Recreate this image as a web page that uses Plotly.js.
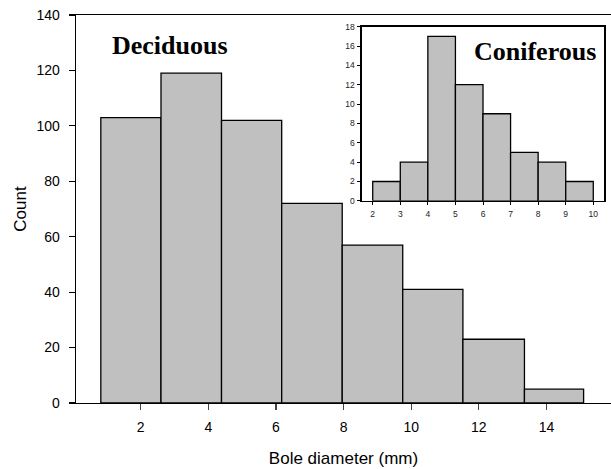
<!DOCTYPE html>
<html>
<head>
<meta charset="utf-8">
<script src="https://cdn.plot.ly/plotly-3.0.1.min.js"></script>
<style>html,body{margin:0;padding:0;background:#fff;}#chart{width:611px;height:469px;}</style>
</head>
<body>
<div id="chart"></div>
<script>
// Deciduous (main) histogram
const decidEdges = [0.82, 2.6, 4.39, 6.17, 7.96, 9.75, 11.53, 13.35, 15.1];
const decidCounts = [103, 119, 102, 72, 57, 41, 23, 5];
const mainXTicks = [2, 4, 6, 8, 10, 12, 14];
const mainYTicks = [0, 20, 40, 60, 80, 100, 120, 140];

// Coniferous (inset) histogram
const conifEdges = [2, 3, 4, 5, 6, 7, 8, 9, 10];
const conifCounts = [2, 4, 17, 12, 9, 5, 4, 2];
const insetXTicks = [2, 3, 4, 5, 6, 7, 8, 9, 10];
const insetYTicks = [0, 2, 4, 6, 8, 10, 12, 14, 16, 18];

function centers(e){ return e.slice(0,-1).map((v,i)=> (v+e[i+1])/2); }
function widths(e){ return e.slice(0,-1).map((v,i)=> e[i+1]-v); }

const barStyle = {color:'#c0c0c0', line:{color:'#000', width:1.3}};

const traces = [
  {type:'bar', x:centers(decidEdges), y:decidCounts, width:widths(decidEdges),
   marker:barStyle, xaxis:'x', yaxis:'y', hoverinfo:'x+y'},
  {type:'bar', x:centers(conifEdges), y:conifCounts, width:widths(conifEdges),
   marker:barStyle, xaxis:'x2', yaxis:'y2', hoverinfo:'x+y'}
];

const axFont = {family:'Liberation Sans, Arial, sans-serif', size:14, color:'#000'};
const smallFont = {family:'Liberation Sans, Arial, sans-serif', size:8.5, color:'#222'};

const layout = {
  width:611, height:469,
  margin:{l:76, r:0, t:15, b:66},
  paper_bgcolor:'#fff', plot_bgcolor:'rgba(0,0,0,0)',
  showlegend:false, bargap:0,
  font:axFont,
  xaxis:{domain:[0,1], range:[0.086, 15.91], tickvals:mainXTicks, ticktext:mainXTicks.map(String),
    showline:true, linecolor:'#000', linewidth:1.3, mirror:true, showgrid:false, zeroline:false,
    ticks:'outside', ticklen:6, tickcolor:'#444', tickwidth:1.2, tickfont:axFont, ticklabelstandoff:5,
    title:{text:'Bole diameter (mm)', font:{family:'Liberation Sans, Arial, sans-serif', size:17, color:'#000'}, standoff:18},
    automargin:false, fixedrange:true},
  yaxis:{domain:[0,1], range:[0,140], tickvals:mainYTicks, ticktext:mainYTicks.map(String),
    showline:true, linecolor:'#000', linewidth:1.3, showgrid:false, zeroline:false,
    ticks:'outside', ticklen:6, tickcolor:'#000', tickwidth:1.2, tickfont:axFont, ticklabelstandoff:6,
    title:{text:'Count', font:{family:'Liberation Sans, Arial, sans-serif', size:17, color:'#000'}, standoff:5},
    automargin:false, fixedrange:true},
  xaxis2:{domain:[0.534, 0.9875], anchor:'y2', range:[1.6, 10.4], tickvals:insetXTicks, ticktext:insetXTicks.map(String),
    showline:true, linecolor:'#000', linewidth:1.2, mirror:true, showgrid:false, zeroline:false,
    ticks:'outside', ticklen:3, tickcolor:'#000', tickfont:smallFont, ticklabelstandoff:2, fixedrange:true},
  yaxis2:{domain:[0.521, 0.970], anchor:'x2', range:[0,18], tickvals:insetYTicks, ticktext:insetYTicks.map(String),
    showline:true, linecolor:'#000', linewidth:1.2, mirror:true, showgrid:false, zeroline:false,
    ticks:'outside', ticklen:3, tickcolor:'#000', tickfont:smallFont, ticklabelstandoff:1, fixedrange:true},
  shapes:[
    {type:'rect', xref:'x2 domain', yref:'y2 domain', x0:0, x1:1, y0:0, y1:1,
     fillcolor:'#fff', line:{width:0}, layer:'below'}
  ],
  annotations:[
    {text:'<b>Deciduous</b>', xref:'paper', yref:'paper', x:(170-76)/535, y:(403.3-46)/388.3,
     showarrow:false, xanchor:'center', yanchor:'middle',
     font:{family:'Liberation Serif, Times New Roman, serif', size:26, color:'#000'}},
    {text:'<b>Coniferous</b>', xref:'paper', yref:'paper', x:(535-76)/535, y:(403.3-51.5)/388.3,
     showarrow:false, xanchor:'center', yanchor:'middle',
     font:{family:'Liberation Serif, Times New Roman, serif', size:26, color:'#000'}}
  ]
};

Plotly.newPlot('chart', traces, layout, {displayModeBar:false, staticPlot:true});
</script>
</body>
</html>
